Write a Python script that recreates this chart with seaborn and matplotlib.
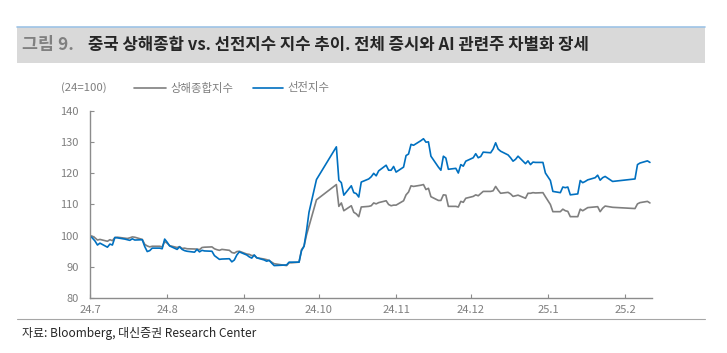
import matplotlib
matplotlib.use("Agg")
import matplotlib.pyplot as plt
import seaborn as sns
import pandas as pd
from matplotlib.patches import Rectangle
from matplotlib.lines import Line2D

# --- data (2024-07 = 100) ---
dates = [
    "2024-07-01", "2024-07-02", "2024-07-03", "2024-07-04", "2024-07-05",
    "2024-07-08", "2024-07-09", "2024-07-10", "2024-07-11", "2024-07-12",
    "2024-07-15", "2024-07-16", "2024-07-17", "2024-07-18", "2024-07-19",
    "2024-07-22", "2024-07-23", "2024-07-24", "2024-07-25", "2024-07-26",
    "2024-07-29", "2024-07-30", "2024-07-31", "2024-08-01", "2024-08-02",
    "2024-08-05", "2024-08-06", "2024-08-07", "2024-08-08", "2024-08-09",
    "2024-08-12", "2024-08-13", "2024-08-14", "2024-08-15", "2024-08-16",
    "2024-08-19", "2024-08-20", "2024-08-21", "2024-08-22", "2024-08-23",
    "2024-08-26", "2024-08-27", "2024-08-28", "2024-08-29", "2024-08-30",
    "2024-09-02", "2024-09-03", "2024-09-04", "2024-09-05", "2024-09-06",
    "2024-09-09", "2024-09-10", "2024-09-11", "2024-09-12", "2024-09-13",
    "2024-09-18", "2024-09-19", "2024-09-20", "2024-09-23", "2024-09-24",
    "2024-09-25", "2024-09-26", "2024-09-27", "2024-09-30", "2024-10-08",
    "2024-10-09", "2024-10-10", "2024-10-11", "2024-10-14", "2024-10-15",
    "2024-10-16", "2024-10-17", "2024-10-18", "2024-10-21", "2024-10-22",
    "2024-10-23", "2024-10-24", "2024-10-25", "2024-10-28", "2024-10-29",
    "2024-10-30", "2024-10-31", "2024-11-01", "2024-11-04", "2024-11-05",
    "2024-11-06", "2024-11-07", "2024-11-08", "2024-11-11", "2024-11-12",
    "2024-11-13", "2024-11-14", "2024-11-15", "2024-11-18", "2024-11-19",
    "2024-11-20", "2024-11-21", "2024-11-22", "2024-11-25", "2024-11-26",
    "2024-11-27", "2024-11-28", "2024-11-29", "2024-12-02", "2024-12-03",
    "2024-12-04", "2024-12-05", "2024-12-06", "2024-12-09", "2024-12-10",
    "2024-12-11", "2024-12-12", "2024-12-13", "2024-12-16", "2024-12-17",
    "2024-12-18", "2024-12-19", "2024-12-20", "2024-12-23", "2024-12-24",
    "2024-12-25", "2024-12-26", "2024-12-27", "2024-12-30", "2024-12-31",
    "2025-01-02", "2025-01-03", "2025-01-06", "2025-01-07", "2025-01-08",
    "2025-01-09", "2025-01-10", "2025-01-13", "2025-01-14", "2025-01-15",
    "2025-01-16", "2025-01-17", "2025-01-20", "2025-01-21", "2025-01-22",
    "2025-01-23", "2025-01-24", "2025-01-27", "2025-02-05", "2025-02-06",
    "2025-02-07", "2025-02-10", "2025-02-11",
]

shanghai = [
    100.0, 99.8, 99.3, 98.6, 98.8,
    98.2, 98.7, 98.4, 99.4, 99.5,
    99.2, 99.1, 99.3, 99.6, 99.5,
    98.8, 97.2, 96.7, 96.4, 96.6,
    96.6, 96.4, 98.1, 97.6, 96.8,
    96.2, 96.5, 95.9, 96.0, 95.8,
    95.7, 95.7, 95.5, 96.2, 96.3,
    96.4, 95.8, 95.5, 95.3, 95.6,
    95.3, 94.6, 94.4, 94.9, 95.0,
    94.1, 94.0, 93.6, 93.7, 92.9,
    92.5, 92.3, 92.0, 91.5, 91.0,
    90.4, 91.3, 91.3, 91.5, 95.5,
    96.6, 100.2, 103.0, 111.5, 116.4,
    109.4, 110.5, 108.0, 109.6, 107.5,
    107.0, 106.1, 109.2, 109.4, 109.6,
    110.5, 110.2, 110.6, 111.2, 110.0,
    109.6, 109.8, 109.8, 111.2, 113.1,
    114.0, 116.0, 115.8, 116.2, 116.4,
    114.8, 115.2, 112.5, 111.3, 111.3,
    113.1, 113.0, 109.4, 109.4, 109.2,
    111.0, 110.7, 112.0, 112.6, 113.1,
    112.8, 113.5, 114.2, 114.2, 114.4,
    115.8, 114.6, 113.6, 113.9, 113.4,
    112.6, 112.8, 113.0, 112.0, 113.6,
    113.6, 113.8, 113.7, 113.8, 112.5,
    110.0, 107.7, 107.7, 108.5, 108.0,
    107.8, 106.1, 106.1, 108.5, 108.0,
    108.5, 109.0, 109.2, 109.3, 107.7,
    108.8, 109.5, 109.1, 108.7, 110.2,
    110.6, 111.0, 110.5,
]

shenzhen = [
    100.0, 99.2, 98.3, 97.0, 97.6,
    96.3, 97.3, 97.0, 99.4, 99.3,
    98.9, 98.7, 98.5, 99.0, 98.6,
    98.7, 96.5, 94.9, 95.2, 96.0,
    96.0, 95.8, 98.9, 97.9, 96.7,
    95.6, 96.4, 95.6, 95.2, 95.0,
    94.7, 95.6, 94.8, 95.3, 95.1,
    95.0, 93.6, 93.0, 92.4, 92.5,
    92.6, 91.6, 92.2, 93.8, 94.8,
    93.8, 93.2, 92.8, 93.8, 92.9,
    92.2, 91.8, 92.1, 91.2, 90.4,
    90.6, 91.5, 91.5, 91.5, 95.2,
    96.6, 101.5, 107.5, 118.0, 128.5,
    117.8, 117.0, 113.0, 116.0, 113.8,
    113.5, 112.4, 117.2, 118.2, 118.9,
    120.0, 119.2, 120.8, 122.6, 121.0,
    121.0, 122.2, 120.4, 122.0, 125.7,
    126.2, 129.3, 129.0, 130.5, 131.1,
    130.0, 130.1, 125.5, 122.0, 121.0,
    125.5, 124.9, 121.3, 121.6, 120.1,
    122.8, 122.3, 123.9, 125.0, 126.3,
    125.0, 125.4, 126.8, 126.6, 127.8,
    129.8, 127.8, 127.1, 125.9, 125.0,
    123.9, 124.5, 125.5, 123.1, 124.0,
    122.8, 123.6, 123.5, 123.5, 120.1,
    117.7, 114.2, 113.8, 115.6, 115.4,
    115.6, 113.1, 113.4, 117.7, 117.0,
    117.4, 117.9, 118.6, 119.4, 117.8,
    118.6, 119.0, 117.4, 118.2, 122.8,
    123.3, 124.0, 123.5,
]

series_names = ["상해종합지수", "선전지수"]
series_colors = ["#7f7f7f", "#0070c0"]
xtick_labels = ["24.7", "24.8", "24.9", "24.10", "24.11", "24.12", "25.1", "25.2"]
ytick_values = [80, 90, 100, 110, 120, 130, 140]

wide = pd.DataFrame({"date": pd.to_datetime(dates),
                     series_names[0]: shanghai,
                     series_names[1]: shenzhen})
df = wide.melt(id_vars="date", var_name="index", value_name="value")

sns.set_style("white")
plt.rcParams["font.family"] = ["Noto Sans CJK KR", "DejaVu Sans"]

fig = plt.figure(figsize=(7.27, 3.53), dpi=100)
ax = fig.add_axes([90 / 727, 1 - 298 / 353, (652 - 90) / 727, (298 - 111) / 353])

sns.lineplot(data=df, x="date", y="value", hue="index",
             palette=dict(zip(series_names, series_colors)),
             linewidth=1.2, legend=False, ax=ax)

# axes styling
ax.set_xlim(pd.Timestamp("2024-07-01"), pd.Timestamp("2025-02-11 20:00"))
ax.set_ylim(80, 140)
ax.set_yticks(ytick_values)
tick_dates = pd.date_range("2024-07-01", periods=len(xtick_labels), freq="MS")
ax.set_xticks(tick_dates)
ax.set_xticklabels(xtick_labels)
ax.set_xlabel("")
ax.set_ylabel("")
for side in ["top", "right"]:
    ax.spines[side].set_visible(False)
for side in ["left", "bottom"]:
    ax.spines[side].set_color("#8c8c8c")
    ax.spines[side].set_linewidth(1.0)
ax.tick_params(axis="both", direction="in", length=3, width=0.8, color="#8c8c8c",
               labelcolor="#7f7f7f", labelsize=8, left=True, bottom=True)
ax.tick_params(axis="y", pad=8)
ax.tick_params(axis="x", pad=5)

# title band
fig.patches.append(Rectangle((17 / 727, 1 - 63 / 353), (705 - 17) / 727, 36 / 353,
                             transform=fig.transFigure, facecolor="#d9d9d9",
                             edgecolor="none", zorder=0))
fig.lines.append(Line2D([17 / 727, 705 / 727], [1 - 26.5 / 353] * 2,
                        transform=fig.transFigure, color="#9dc3e6", linewidth=1.2))
fig.text(22 / 727, 1 - 45 / 353, "그림 9.", color="#808080", fontsize=12.5,
         fontweight="bold", va="center", ha="left")
fig.text(88 / 727, 1 - 45 / 353,
         "중국 상해종합 vs. 선전지수 지수 추이. 전체 증시와 AI 관련주 차별화 장세",
         color="#262626", fontsize=12, fontweight="bold", va="center", ha="left")

# unit + legend
fig.text(61 / 727, 1 - 88 / 353, "(24=100)", color="#7f7f7f", fontsize=8.2, va="center")
legend_items = [(134, 166, 170), (253, 283, 287)]
for (x0, x1, xt), name, color in zip(legend_items, series_names, series_colors):
    fig.lines.append(Line2D([x0 / 727, x1 / 727], [1 - 88 / 353] * 2,
                            transform=fig.transFigure, color=color, linewidth=1.2))
    fig.text(xt / 727, 1 - 88 / 353, name, color="#7f7f7f", fontsize=8.2, va="center")

# bottom rule + source
fig.lines.append(Line2D([17 / 727, 705 / 727], [1 - 319 / 353] * 2,
                        transform=fig.transFigure, color="#a6a6a6", linewidth=0.8))
fig.text(22 / 727, 1 - 333 / 353, "자료: Bloomberg, 대신증권 Research Center",
         color="#262626", fontsize=8.6, va="center", ha="left")

fig.savefig("out.png", dpi=100)
